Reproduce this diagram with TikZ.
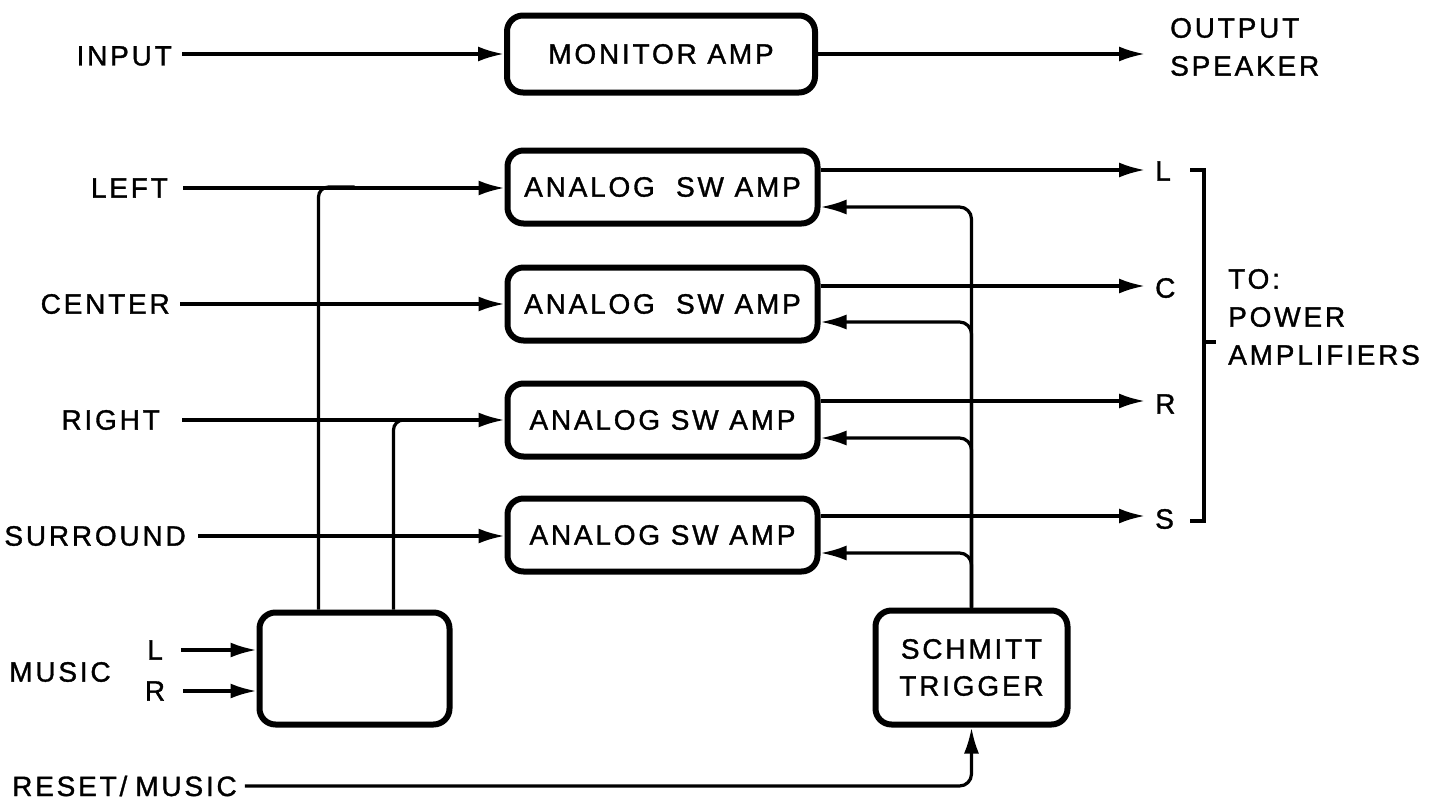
\documentclass[tikz,border=0pt]{standalone}
\usepackage{fontspec}
\setmainfont{Liberation Sans}[LetterSpace=10, FakeBold=1.2]
\usetikzlibrary{arrows.meta,calc}
\begin{document}
\begin{tikzpicture}[x=1pt,y=-1pt,
  blk/.style={draw, line width=6pt, rounded corners=16pt, inner sep=0pt, align=center},
  conn/.style={line width=3.2pt},
  arr/.style={conn, -{Latex[length=26pt,width=15pt]}},
  lbl/.style={inner sep=0pt, font=\fontsize{28}{38}\selectfont},
  bfont/.style={font=\fontsize{28}{37}\selectfont},
]
\useasboundingbox (0,0) rectangle (1433,806);
% blocks
\node[blk, bfont, minimum width=308pt, minimum height=77pt] (mon) at (661,54) {MONITOR AMP};
\node[blk, bfont, minimum width=310pt, minimum height=73pt] (a1) at (662.5,187) {ANALOG\ \ SW AMP};
\node[blk, bfont, minimum width=310pt, minimum height=73pt] (a2) at (662.5,304) {ANALOG\ \ SW AMP};
\node[blk, bfont, minimum width=310pt, minimum height=73pt] (a3) at (662.5,420) {ANALOG SW AMP};
\node[blk, bfont, minimum width=310pt, minimum height=73pt] (a4) at (662.5,535) {ANALOG SW AMP};
\node[blk, minimum width=190pt, minimum height=112pt] (mb) at (354.5,668.5) {};
\node[blk, bfont, minimum width=192pt, minimum height=114pt] (st) at (971.5,667.5) {SCHMITT\\TRIGGER};
% left labels
\node[lbl, anchor=east] (in) at (172,56) {INPUT};
\node[lbl, anchor=east] (lf) at (168,188) {LEFT};
\node[lbl, anchor=east] (ce) at (170,304) {CENTER};
\node[lbl, anchor=east] (ri) at (160,420) {RIGHT};
\node[lbl, anchor=east] (su) at (186,536) {SURROUND};
\node[lbl] (mu) at (60,672) {MUSIC};
\node[lbl] (ml) at (155,650) {L};
\node[lbl] (mr) at (155,691) {R};
\node[lbl, anchor=west] (rst) at (12,786) {RESET/\hspace{8pt}MUSIC};
% right labels
\node[lbl, anchor=west, align=left] (out) at (1170,47) {OUTPUT\\SPEAKER};
\node[lbl, anchor=west] (oL) at (1155,171) {L};
\node[lbl, anchor=west] (oC) at (1155,288) {C};
\node[lbl, anchor=west] (oR) at (1155,404) {R};
\node[lbl, anchor=west] (oS) at (1155,519) {S};
\node[lbl, anchor=west, align=left] (to) at (1228,317) {TO:\\POWER\\AMPLIFIERS};
% connector end points
\coordinate (s1) at ($(a1.east)+(0,-17)$);
\coordinate (s2) at ($(a2.east)+(0,-18)$);
\coordinate (s3) at ($(a3.east)+(0,-19)$);
\coordinate (s4) at ($(a4.east)+(0,-19)$);
\coordinate (t1) at ($(s1 -| oL.west)+(-10,0)$);
\coordinate (t2) at ($(s2 -| oC.west)+(-10,0)$);
\coordinate (t3) at ($(s3 -| oR.west)+(-10,0)$);
\coordinate (t4) at ($(s4 -| oS.west)+(-10,0)$);
\coordinate (inS) at ($(in.east |- mon.west)+(10,0)$);
\coordinate (spk) at ($(mon.east -| out.west)+(-25,0)$);
% inputs
\draw[arr] (inS) -- (mon.west);
\draw[arr] ([xshift=15pt]lf.east) -- (lf.east -| a1.west);
\draw[arr] ([xshift=10pt]ce.east) -- (ce.east -| a2.west);
\draw[arr] ([xshift=22pt]ri.east) -- (ri.east -| a3.west);
\draw[arr] ([xshift=12pt]su.east) -- (su.east -| a4.west);
\draw[arr] ([xshift=18pt]ml.east) -- (ml.east -| mb.west);
\draw[arr] ([xshift=18pt]mr.east) -- (mr.east -| mb.west);
% music matrix to rows
\draw[conn, rounded corners=10pt] ($(mb.north)+(-36,0)$) |- ($(a1.west)+(-150,0)$);
\draw[conn, rounded corners=10pt] ($(mb.north)+(39,0)$) |- ($(a3.west)+(-80,0)$);
% outputs
\draw[arr] (mon.east) -- (spk);
\draw[arr] (s1) -- (t1);
\draw[arr] (s2) -- (t2);
\draw[arr] (s3) -- (t3);
\draw[arr] (s4) -- (t4);
% schmitt feedback
\draw[arr, rounded corners=12pt] (st.north) |- ($(a1.east)+(0,20)$);
\draw[arr, rounded corners=12pt] (st.north) |- ($(a2.east)+(0,18)$);
\draw[arr, rounded corners=12pt] (st.north) |- ($(a3.east)+(0,18)$);
\draw[arr, rounded corners=12pt] (st.north) |- ($(a4.east)+(0,18)$);
% reset
\draw[arr, rounded corners=12pt] ([xshift=8pt]rst.east) -| (st.south);
% bracket
\draw[conn] (1190,170) -- (1204,170) -- (1204,521) -- (1190,521);
\draw[conn] (1204,342) -- (1216,342);
\end{tikzpicture}
\end{document}
